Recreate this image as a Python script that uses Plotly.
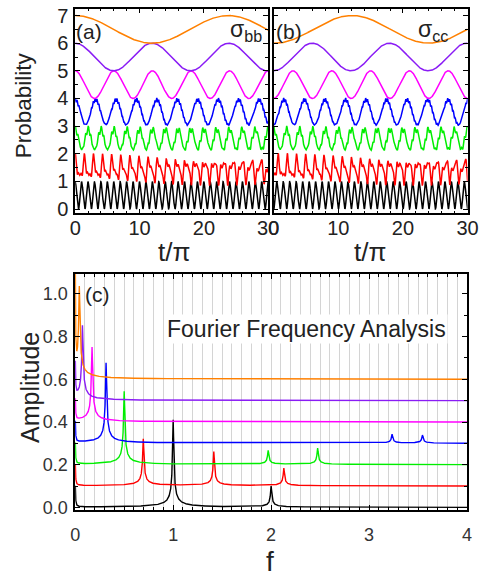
import numpy as np
import plotly.graph_objects as go

W, H = 487, 577
FONT = "Liberation Sans, Arial, sans-serif"

# ---------------- data ----------------
# time axis in units of t/pi
t_end = 30.0
series_colors = ["#000000", "#ff0000", "#00ee00", "#0000ff", "#ff00ff", "#8a1cf5", "#ff8000"]
band_offsets = [0, 1, 2, 3, 4, 5, 6]

# frequency content of each trace (cycles per unit of t/pi)
comp_freqs = [
    [1.0, 2.0],
    [0.695, 1.415, 2.13],
    [0.50, 1.97, 2.475],
    [0.315, 3.235, 3.545],
    [0.1667],
    [0.0837],
    [0.042],
]
# sigma_bb: mean level, component amplitudes and phases
bb_means = [0.5, 0.43, 0.52, 0.5, 0.5, 0.5, 0.5]
bb_amps = [
    [0.49, 0.03],
    [0.29, 0.19, 0.11],
    [0.36, 0.06, 0.07],
    [0.45, 0.035, 0.035],
    [0.5],
    [0.5],
    [0.5],
]
bb_phases = [
    [0.0, 1.57],
    [0.0, 0.0, 0.0],
    [0.0, 0.0, 0.0],
    [0.0, 0.0, 0.0],
    [0.0],
    [0.0],
    [0.0],
]
# sigma_cc: mean level, component amplitudes and phases
cc_means = [0.5, 0.43, 0.52, 0.5, 0.5, 0.5, 0.5]
cc_amps = [
    [0.49, 0.03],
    [0.29, 0.19, 0.11],
    [0.36, 0.06, 0.07],
    [0.45, 0.035, 0.035],
    [0.5],
    [0.5],
    [0.5],
]
cc_phases = [
    [3.14, 1.57],
    [3.14, 0.0, 3.14],
    [0.0, 0.0, 0.0],
    [3.14, 0.0, 3.14],
    [3.14],
    [3.14],
    [3.14 - 2 * np.pi * 0.042 * 0.2],
]

# Fourier spectra: baseline of each curve, zero-frequency spike, peaks
fft_baselines = [0.0, 0.1, 0.2, 0.3, 0.4, 0.5, 0.6]
fft_dc_heights = [0.10, 0.10, 0.10, 0.10, 0.10, 0.16, 0.45]
fft_peak_freqs = [
    [1.0, 2.0],
    [0.695, 1.415, 2.13],
    [0.50, 1.97, 2.475],
    [0.315, 3.235, 3.545],
    [0.172],
    [0.074],
    [0.042],
]
fft_peak_heights = [
    [0.41, 0.099],
    [0.22, 0.16, 0.083],
    [0.343, 0.066, 0.077],
    [0.377, 0.042, 0.038],
    [0.35],
    [0.35],
    [0.42],
]
fft_line_width = 0.0055
fft_dc_center = 0.0015
fft_dc_width = 0.0015

# ---------------- figure ----------------
def px_x(x):
    return x / W


def px_y(y):
    return 1 - y / H


t = np.linspace(0, t_end, 4001)


def trace_values(k, means, amps, phases):
    y = np.full_like(t, band_offsets[k] + means[k])
    for f, a, p in zip(comp_freqs[k], amps[k], phases[k]):
        y += a * np.cos(2 * np.pi * f * t + p)
    return y


def line_shape(f, f0, h, g):
    # finite-window Fourier peak: magnitude falls off as 1/|f - f0|
    return h * g / np.sqrt((f - f0) ** 2 + g ** 2)


fig = go.Figure()

for k in range(7):
    fig.add_trace(go.Scatter(x=t, y=trace_values(k, bb_means, bb_amps, bb_phases),
                             mode="lines", line=dict(color=series_colors[k], width=1.5),
                             xaxis="x", yaxis="y", showlegend=False, hoverinfo="skip"))
    fig.add_trace(go.Scatter(x=t, y=trace_values(k, cc_means, cc_amps, cc_phases),
                             mode="lines", line=dict(color=series_colors[k], width=1.5),
                             xaxis="x2", yaxis="y2", showlegend=False, hoverinfo="skip"))

f_axis = np.arange(0, 4.0005, 0.0005)
for k in range(7):
    amp = np.full_like(f_axis, fft_baselines[k])
    amp += line_shape(f_axis, fft_dc_center, fft_dc_heights[k], fft_dc_width)
    for f0, h in zip(fft_peak_freqs[k], fft_peak_heights[k]):
        amp += line_shape(f_axis, f0, h, fft_line_width)
    fig.add_trace(go.Scatter(x=f_axis, y=amp, mode="lines",
                             line=dict(color=series_colors[k], width=1.4),
                             xaxis="x3", yaxis="y3", showlegend=False, hoverinfo="skip"))

top_y = [px_y(213.7), px_y(4.7)]
ax_common = dict(showline=True, linecolor="black", linewidth=1.5, mirror="allticks",
                 ticks="inside", ticklen=5, tickwidth=1.2, tickcolor="black",
                 showgrid=False, zeroline=False)

fig.update_layout(
    width=W, height=H, margin=dict(l=0, r=0, t=0, b=0),
    plot_bgcolor="white", paper_bgcolor="white",
    font=dict(family=FONT, color="#222"),
    xaxis=dict(domain=[px_x(71.7), px_x(271.7)], range=[0, 30], dtick=10,
               tickfont=dict(size=20), ticklabelstandoff=-4,
               minor=dict(dtick=2, ticks="inside", ticklen=3, tickcolor="black"),
               anchor="y", **ax_common),
    yaxis=dict(domain=top_y, range=[-0.15, 7.25], dtick=1, tickfont=dict(size=20),
               ticklabelstandoff=1,
               minor=dict(dtick=0.5, ticks="inside", ticklen=3, tickcolor="black"),
               anchor="x", **ax_common),
    xaxis2=dict(domain=[px_x(277.3), px_x(478.3)], range=[0, 30], dtick=10,
                tickfont=dict(size=20), ticklabelstandoff=-4,
                minor=dict(dtick=2, ticks="inside", ticklen=3, tickcolor="black"),
                anchor="y2", **ax_common),
    yaxis2=dict(domain=top_y, range=[-0.15, 7.25], dtick=1, showticklabels=False,
                minor=dict(dtick=0.5, ticks="inside", ticklen=3, tickcolor="black"),
                anchor="x2", **ax_common),
    xaxis3=dict(domain=[px_x(71.7), px_x(477.7)], range=[0, 4], dtick=1,
                tickfont=dict(size=18, color="#333"), ticklabelstandoff=8,
                showline=True, linecolor="black", linewidth=1.5, mirror="allticks",
                ticks="inside", ticklen=5, tickwidth=1.2, tickcolor="black",
                showgrid=True, gridcolor="#d4d4d4", gridwidth=1, zeroline=False,
                minor=dict(dtick=0.1, ticks="inside", ticklen=3, tickcolor="black",
                           showgrid=True, gridcolor="#d4d4d4", gridwidth=1),
                anchor="y3"),
    yaxis3=dict(domain=[px_y(516.5), px_y(275.7)], range=[-0.01, 1.093], dtick=0.2,
                tickformat=".1f", tickfont=dict(size=18, color="#333"), ticklabelstandoff=2,
                minor=dict(dtick=0.1, ticks="inside", ticklen=3, tickcolor="black"),
                anchor="x3", **ax_common),
)


def label(text, x, y, size, angle=0, bg=None):
    fig.add_annotation(text=text, x=px_x(x), y=px_y(y), xref="paper", yref="paper",
                       showarrow=False, textangle=angle, xanchor="center", yanchor="middle",
                       font=dict(family=FONT, size=size, color="#222"),
                       bgcolor=bg, borderpad=1)


label("Probability", 18, 103, 22.5, angle=-90)
label("t/π", 174, 253, 26)
label("t/π", 377, 253, 26)
label("Amplitude", 25, 392, 25, angle=-90)
label("f", 274, 569, 28)
label("(a)", 86, 28, 21)
label("σ<sub>bb</sub>", 249, 27, 23)
label("(b)", 293, 28, 21)
label("σ<sub>cc</sub>", 442, 27, 23)
label("(c)", 95, 297, 21)
label("Fourier Frequency Analysis", 311, 332, 23, bg="white")

fig.write_html("out.html")
